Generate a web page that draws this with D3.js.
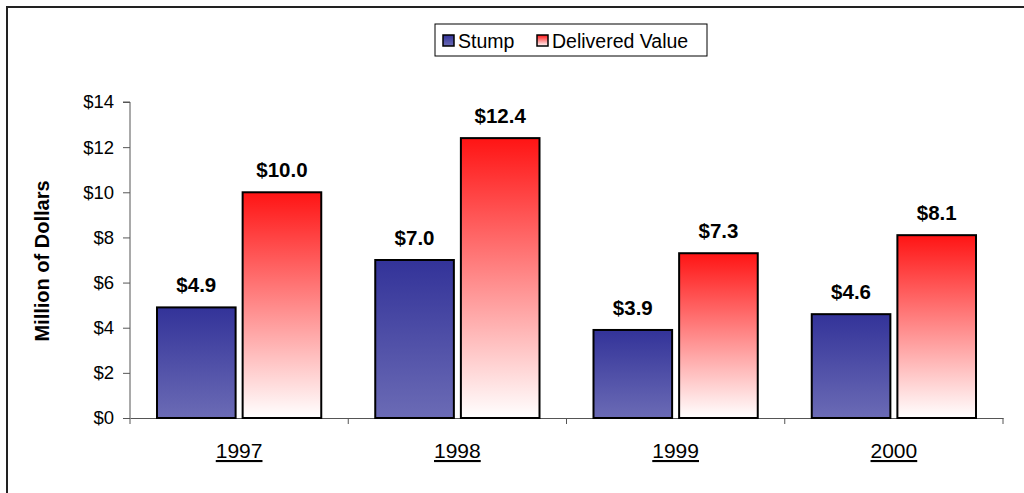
<!DOCTYPE html>
<html>
<head>
<meta charset="utf-8">
<script src="https://cdn.jsdelivr.net/npm/d3@7"></script>
<style>
  html, body { margin: 0; padding: 0; background: #fff; }
  svg { display: block; font-family: "Liberation Sans", Arial, sans-serif; }
</style>
</head>
<body>
<svg id="chart" width="1024" height="493"></svg>
<script>
// Values in million dollars
const years = ["1997", "1998", "1999", "2000"];
const stump = [4.9, 7.0, 3.9, 4.6];
const delivered = [10.0, 12.4, 7.3, 8.1];
const seriesNames = ["Stump", "Delivered Value"];
const yTicks = [0, 2, 4, 6, 8, 10, 12, 14];

const svg = d3.select("#chart");
const margin = { left: 130, right: 1003, top: 102, bottom: 418 };

// Outer frame (only top and left edges fall inside the view)
svg.append("path")
  .attr("d", "M7,493 V7 H1024")
  .attr("fill", "none")
  .attr("stroke", "#222")
  .attr("stroke-width", 2);

const defs = svg.append("defs");
const gStump = defs.append("linearGradient").attr("id", "gradStump")
  .attr("x1", 0).attr("y1", 0).attr("x2", 0).attr("y2", 1);
gStump.append("stop").attr("offset", "0%").attr("stop-color", "#333399");
gStump.append("stop").attr("offset", "100%").attr("stop-color", "#6b6bb5");
const gDel = defs.append("linearGradient").attr("id", "gradDel")
  .attr("x1", 0).attr("y1", 0).attr("x2", 0).attr("y2", 1);
gDel.append("stop").attr("offset", "0%").attr("stop-color", "#ff1414");
gDel.append("stop").attr("offset", "100%").attr("stop-color", "#ffffff");

const x = d3.scaleBand().domain(years).range([margin.left, margin.right]).padding(0);
const sub = d3.scaleBand().domain(seriesNames).range([27, x.bandwidth() - 27]).paddingInner(0.082);
const y = d3.scaleLinear().domain([0, 14]).range([margin.bottom, margin.top]);

// Y axis
const yAxis = svg.append("g").attr("transform", `translate(${margin.left},0)`)
  .call(d3.axisLeft(y).tickValues(yTicks).tickSize(7).tickFormat(d => "$" + d));
yAxis.select(".domain").attr("stroke", "#555").attr("d", `M-7,${y(14)}H0V${y(0)}`);
yAxis.selectAll(".tick line").attr("stroke", "#555");
yAxis.selectAll(".tick text").attr("font-size", 18.5).attr("fill", "#000")
  .attr("font-family", "Liberation Sans, Arial, sans-serif").attr("x", -16);

// X axis
const xAxis = svg.append("g").attr("transform", `translate(0,${margin.bottom})`)
  .call(d3.axisBottom(x).tickSize(0).tickFormat(""));
xAxis.select(".domain").attr("stroke", "#555");
xAxis.selectAll(".tick").remove();
const bounds = [margin.left].concat(years.map(d => x(d) + x.bandwidth()));
xAxis.selectAll("line.sep").data(bounds).join("line")
  .attr("x1", d => d).attr("x2", d => d).attr("y1", 0).attr("y2", 6)
  .attr("stroke", "#555");
xAxis.selectAll("text.year").data(years).join("text")
  .attr("class", "year")
  .attr("x", d => x(d) + x.bandwidth() / 2)
  .attr("y", 40)
  .attr("text-anchor", "middle")
  .attr("font-size", 21)
  .attr("text-decoration", "underline")
  .attr("fill", "#000")
  .text(d => d);

// Y axis title
svg.append("text")
  .attr("transform", "translate(49,261) rotate(-90)")
  .attr("text-anchor", "middle")
  .attr("font-size", 20)
  .attr("font-weight", "bold")
  .text("Million of Dollars");

// Bars
const rows = years.map((yr, i) => ({ year: yr, vals: [stump[i], delivered[i]] }));
const groups = svg.selectAll("g.grp").data(rows).join("g")
  .attr("class", "grp")
  .attr("transform", d => `translate(${x(d.year)},0)`);

groups.selectAll("rect").data(d => d.vals.map((v, j) => ({ v, s: seriesNames[j] }))).join("rect")
  .attr("x", d => sub(d.s))
  .attr("width", sub.bandwidth())
  .attr("y", d => y(d.v))
  .attr("height", d => y(0) - y(d.v))
  .attr("fill", d => d.s === "Stump" ? "url(#gradStump)" : "url(#gradDel)")
  .attr("stroke", "#000")
  .attr("stroke-width", 2);

groups.selectAll("text.lbl").data(d => d.vals.map((v, j) => ({ v, s: seriesNames[j] }))).join("text")
  .attr("class", "lbl")
  .attr("x", d => sub(d.s) + sub.bandwidth() / 2)
  .attr("y", d => y(d.v) - 15)
  .attr("text-anchor", "middle")
  .attr("font-size", 20.5)
  .attr("font-weight", "bold")
  .text(d => "$" + d.v.toFixed(1));

// Legend
const leg = svg.append("g").attr("transform", "translate(435,24)");
leg.append("rect").attr("x", 0).attr("y", 0).attr("width", 272).attr("height", 32)
  .attr("fill", "#fff").attr("stroke", "#000").attr("stroke-width", 1);
const legItems = [
  { name: "Stump", fill: "url(#gradStump)", sx: 8 },
  { name: "Delivered Value", fill: "url(#gradDel)", sx: 102 }
];
legItems.forEach(it => {
  leg.append("rect").attr("x", it.sx).attr("y", 11).attr("width", 11).attr("height", 11)
    .attr("fill", it.fill).attr("stroke", "#000").attr("stroke-width", 1.5);
  leg.append("text").attr("x", it.sx + 15).attr("y", 24)
    .attr("font-size", 19.5).attr("fill", "#000").text(it.name);
});
</script>
</body>
</html>
